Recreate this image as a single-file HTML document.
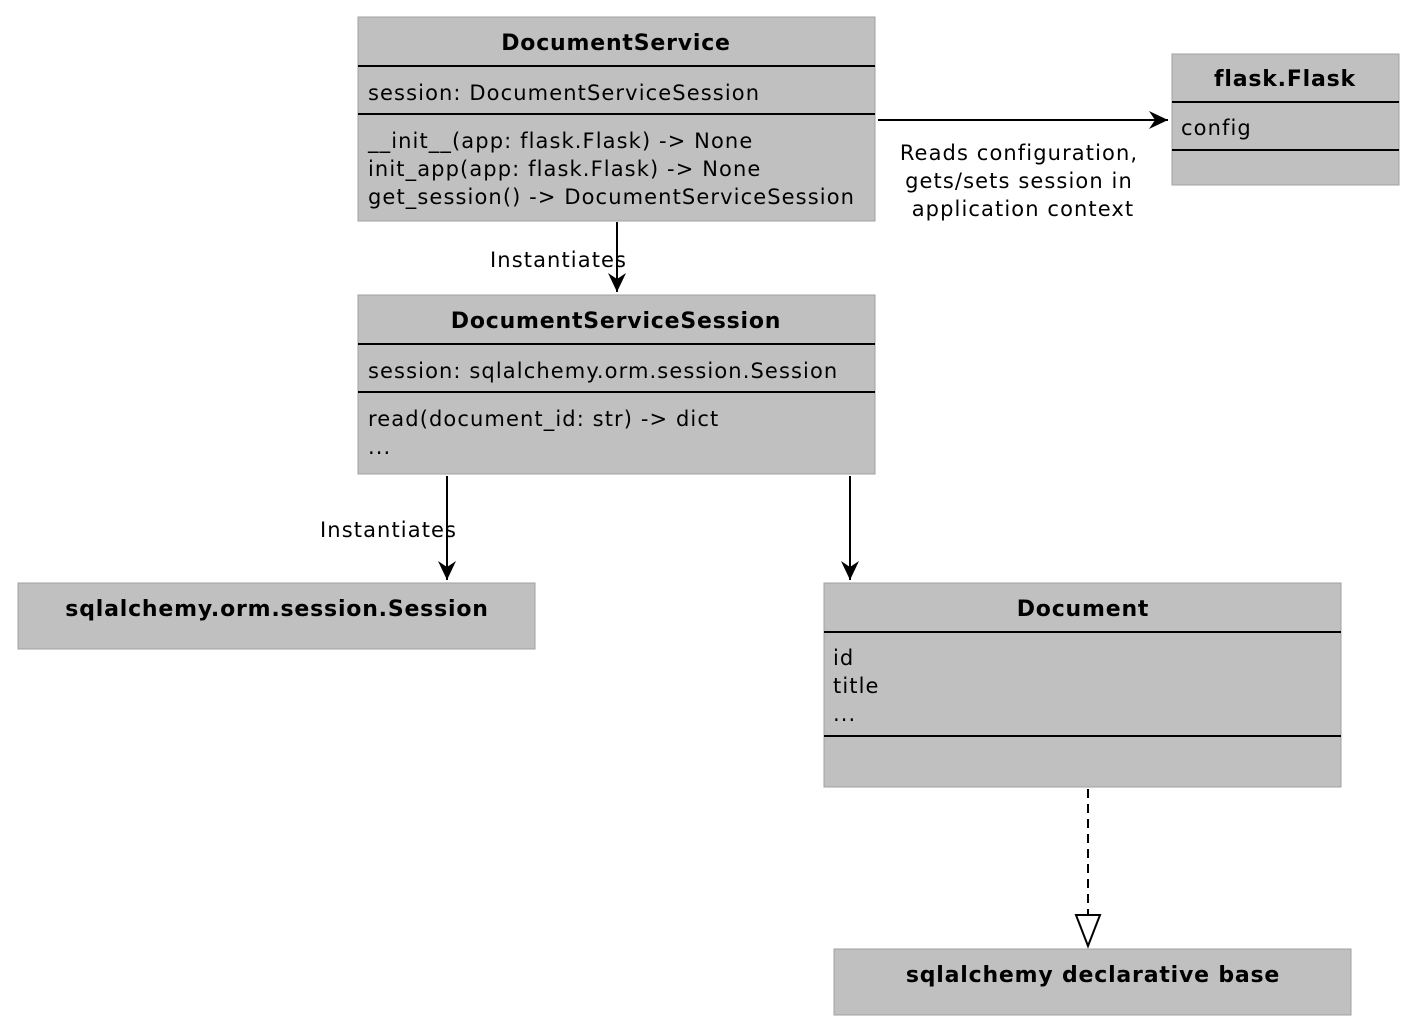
<!DOCTYPE html>
<html><head><meta charset="utf-8"><style>
html,body{margin:0;padding:0;background:#fff;}
svg{display:block;}
text{font-family:"DejaVu Sans","Liberation Sans",sans-serif;font-size:21px;letter-spacing:1.1px;fill:#000;}
.t{font-weight:bold;font-size:22px;letter-spacing:0.8px;}
.s{font-size:21px;letter-spacing:1.1px;}
</style></head><body>
<svg width="1416" height="1032" viewBox="0 0 1416 1032" xmlns="http://www.w3.org/2000/svg">
<defs>
<marker id="a" markerWidth="24" markerHeight="22" refX="20" refY="11" orient="auto" markerUnits="userSpaceOnUse">
<path d="M1,2 L20,11 L1,20 L7,11 Z" fill="#000"/></marker>
</defs>
<g fill="#c0c0c0" stroke="#a0a0a0" stroke-width="1">
<rect x="358" y="17" width="517" height="204"/>
<rect x="1172" y="54" width="227" height="131"/>
<rect x="358" y="295" width="517" height="179"/>
<rect x="18" y="583" width="517" height="66"/>
<rect x="824" y="583" width="517" height="204"/>
<rect x="834" y="949" width="517" height="66"/>
</g>
<g stroke="#000" stroke-width="2">
<line x1="358" y1="66" x2="875" y2="66"/><line x1="358" y1="114" x2="875" y2="114"/>
<line x1="1172" y1="102" x2="1399" y2="102"/><line x1="1172" y1="150" x2="1399" y2="150"/>
<line x1="358" y1="344" x2="875" y2="344"/><line x1="358" y1="392" x2="875" y2="392"/>
<line x1="824" y1="632" x2="1341" y2="632"/><line x1="824" y1="736" x2="1341" y2="736"/>
<line x1="878" y1="120" x2="1168" y2="120" marker-end="url(#a)"/>
<line x1="617" y1="222" x2="617" y2="292" marker-end="url(#a)"/>
<line x1="447" y1="476" x2="447" y2="580" marker-end="url(#a)"/>
<line x1="850" y1="476" x2="850" y2="580" marker-end="url(#a)"/>
<line x1="1088" y1="789" x2="1088" y2="915" stroke-dasharray="9,6"/>
<path d="M1076,915 L1100,915 L1088,946 Z" fill="#fff"/>
</g>
<text class="t" x="616" y="50" text-anchor="middle">DocumentService</text>
<text x="368" y="100">session: DocumentServiceSession</text>
<text x="368" y="148">__init__(app: flask.Flask) -&gt; None</text>
<text x="368" y="176">init_app(app: flask.Flask) -&gt; None</text>
<text x="368" y="204">get_session() -&gt; DocumentServiceSession</text>
<text class="t" x="1285" y="86" text-anchor="middle">flask.Flask</text>
<text x="1181" y="135">config</text>
<text class="s" x="1019" y="160" text-anchor="middle">Reads configuration,</text>
<text class="s" x="1019" y="188" text-anchor="middle">gets/sets session in</text>
<text class="s" x="1023" y="216" text-anchor="middle">application context</text>
<text class="s" x="490" y="267">Instantiates</text>
<text class="t" x="616" y="328" text-anchor="middle">DocumentServiceSession</text>
<text x="368" y="378">session: sqlalchemy.orm.session.Session</text>
<text x="368" y="426">read(document_id: str) -&gt; dict</text>
<text x="368" y="454">...</text>
<text class="s" x="320" y="537">Instantiates</text>
<text class="t" x="277" y="616" text-anchor="middle">sqlalchemy.orm.session.Session</text>
<text class="t" x="1083" y="616" text-anchor="middle">Document</text>
<text x="833" y="665">id</text>
<text x="833" y="693">title</text>
<text x="833" y="721">...</text>
<text class="t" x="1093" y="982" text-anchor="middle">sqlalchemy declarative base</text>
</svg>
</body></html>
